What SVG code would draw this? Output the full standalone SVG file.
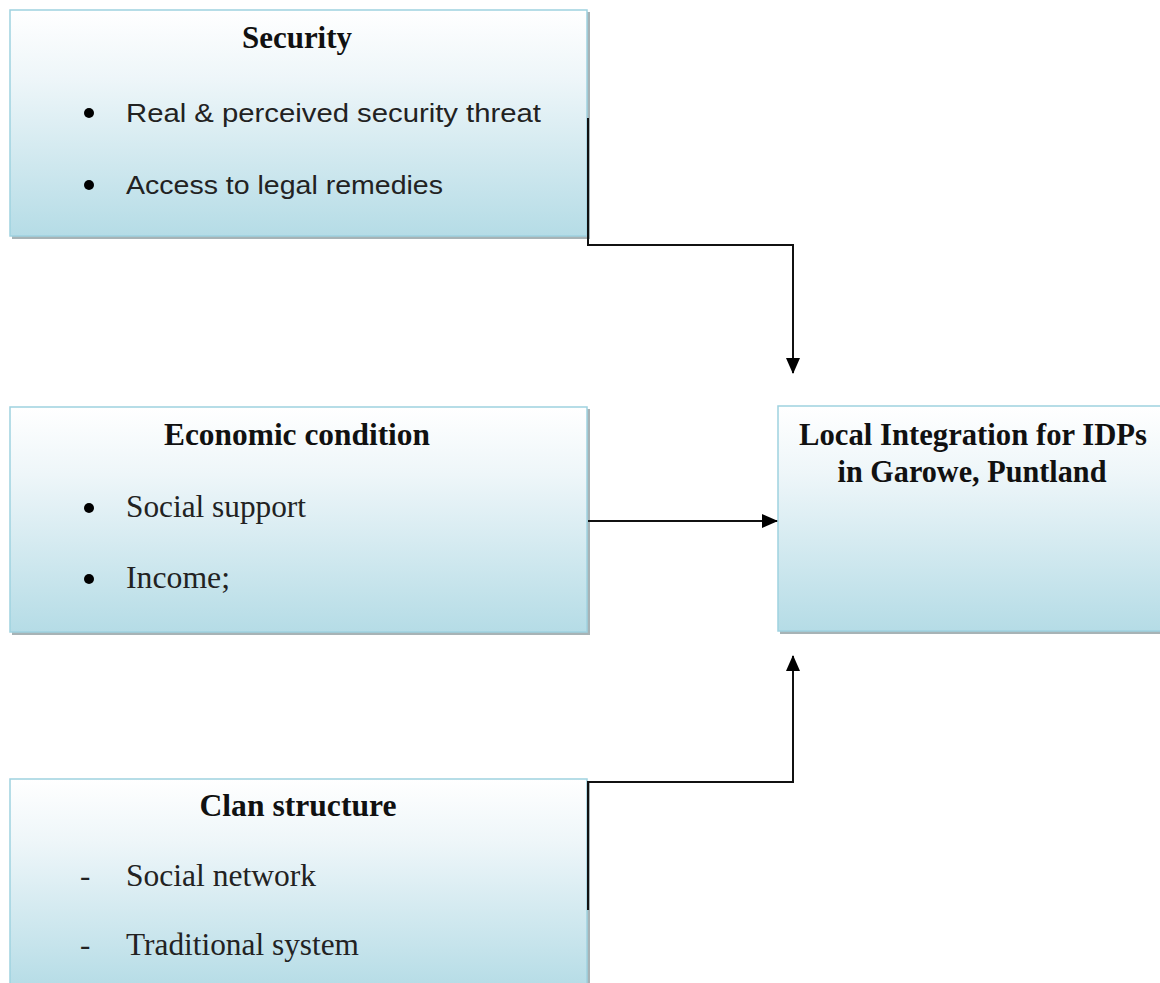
<svg xmlns="http://www.w3.org/2000/svg" width="1160" height="983" viewBox="0 0 1160 983">
<style>
.box{fill:url(#g);stroke:#9fd2e0;stroke-width:1.5}
.sh{fill:#a7b3b6}
.t{font-family:"Liberation Serif",serif;font-weight:bold;font-size:31px;fill:#111;text-anchor:middle}
.s{font-family:"Liberation Sans",Arial,sans-serif;font-size:26px;fill:#222}
.r{font-family:"Liberation Serif",serif;font-size:31px;fill:#222}
.c{stroke:#111;stroke-width:2;fill:none}
</style>
<defs>
<linearGradient id="g" x1="0" y1="0" x2="0" y2="1">
<stop offset="0" stop-color="#ffffff"/>
<stop offset="0.3" stop-color="#eef6f9"/>
<stop offset="1" stop-color="#b5dce6"/>
</linearGradient>
<marker id="ah" markerWidth="16" markerHeight="16" refX="15" refY="8" orient="auto" markerUnits="userSpaceOnUse" viewBox="0 0 16 16">
<path d="M0,1 L16,8 L0,15 z" fill="#000"/>
</marker>
</defs>
<g id="security">
<rect class="sh" x="12" y="12" width="578" height="227"/>
<rect class="box" x="10" y="10" width="577" height="226"/>
<text class="t" x="297" y="48" textLength="110" lengthAdjust="spacingAndGlyphs">Security</text>
<circle cx="89" cy="113" r="5" fill="#000"/>
<text class="s" x="126" y="122" textLength="415" lengthAdjust="spacingAndGlyphs">Real &amp; perceived security threat</text>
<circle cx="89" cy="185" r="5" fill="#000"/>
<text class="s" x="126" y="194" textLength="317" lengthAdjust="spacingAndGlyphs">Access to legal remedies</text>
</g>
<g id="economic">
<rect class="sh" x="12" y="409" width="578" height="226"/>
<rect class="box" x="10" y="407" width="577" height="225"/>
<text class="t" x="297" y="445" textLength="266" lengthAdjust="spacingAndGlyphs">Economic condition</text>
<circle cx="89" cy="508" r="5" fill="#000"/>
<text class="r" x="126" y="517" textLength="180" lengthAdjust="spacingAndGlyphs">Social support</text>
<circle cx="89" cy="579" r="5" fill="#000"/>
<text class="r" x="126" y="588" textLength="104" lengthAdjust="spacingAndGlyphs">Income;</text>
</g>
<g id="clan">
<rect class="sh" x="12" y="781" width="578" height="210"/>
<rect class="box" x="10" y="779" width="577" height="210"/>
<text class="t" x="298" y="816" textLength="197" lengthAdjust="spacingAndGlyphs">Clan structure</text>
<text class="r" x="80" y="886">-</text>
<text class="r" x="126" y="886" textLength="190" lengthAdjust="spacingAndGlyphs">Social network</text>
<text class="r" x="80" y="955">-</text>
<text class="r" x="126" y="955" textLength="233" lengthAdjust="spacingAndGlyphs">Traditional system</text>
</g>
<g id="local">
<rect class="sh" x="780" y="408" width="385" height="226"/>
<rect class="box" x="778" y="406" width="390" height="225"/>
<text class="t" x="973" y="445" textLength="348" lengthAdjust="spacingAndGlyphs">Local Integration for IDPs</text>
<text class="t" x="972" y="482" textLength="269" lengthAdjust="spacingAndGlyphs">in Garowe, Puntland</text>
</g>
<g id="connectors">
<polyline class="c" points="588,118 588,245 793,245 793,373" marker-end="url(#ah)"/>
<line class="c" x1="588" y1="521" x2="777" y2="521" marker-end="url(#ah)"/>
<polyline class="c" points="588,910 588,782 793,782 793,656" marker-end="url(#ah)"/>
</g>
</svg>
